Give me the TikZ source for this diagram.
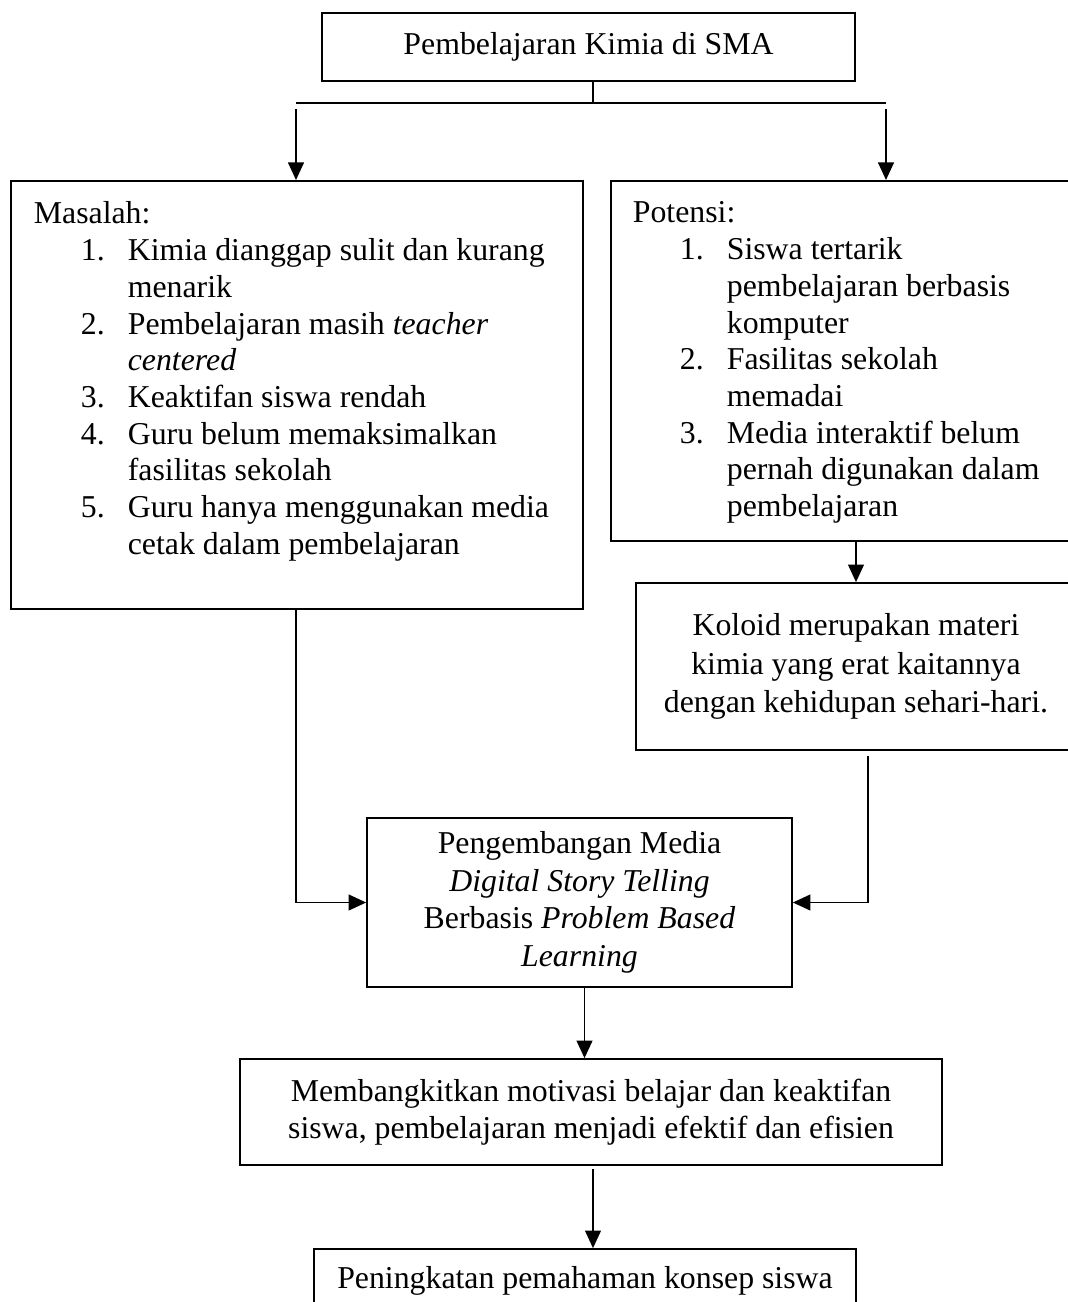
\documentclass[tikz,border=0pt]{standalone}
\usepackage{fontspec}
\setmainfont{Liberation Serif}
\usetikzlibrary{arrows.meta, positioning, calc}

\newcommand{\butir}[2]{\makebox[0.94cm][l]{#1}#2}

\tikzset{
  kotak/.style={draw, line width=1pt, inner sep=0pt, font=\fontsize{18.1}{21}\selectfont, align=center},
  daftar/.style={draw, line width=1pt, inner sep=0pt, font=\fontsize{18.1}{20.9}\selectfont, anchor=north west},
  panah/.style={-{Triangle[length=10pt, width=9pt]}, line width=1pt},
  garis/.style={line width=1pt},
}

\begin{document}
\begin{tikzpicture}[x=0.02cm, y=-0.02cm]
  \useasboundingbox (0,0) rectangle (1068,1302);

  \node[kotak, minimum width=10.66cm, minimum height=1.36cm] (judul) at (588.5,47) {Pembelajaran Kimia di SMA};

  \node[daftar] (masalah) at (10,180) {\parbox[c][8.56cm][t]{11.44cm}{\raggedright\setlength{\parindent}{0pt}\vspace*{0.42cm}%
    \hspace*{0.46cm}Masalah:\\
    \hspace*{1.40cm}\butir{1.}{Kimia dianggap sulit dan kurang}\\
    \hspace*{2.34cm}menarik\\
    \hspace*{1.40cm}\butir{2.}{Pembelajaran masih \textit{teacher}}\\
    \hspace*{2.34cm}\textit{centered}\\
    \hspace*{1.40cm}\butir{3.}{Keaktifan siswa rendah}\\
    \hspace*{1.40cm}\butir{4.}{Guru belum memaksimalkan}\\
    \hspace*{2.34cm}fasilitas sekolah\\
    \hspace*{1.40cm}\butir{5.}{Guru hanya menggunakan media}\\
    \hspace*{2.34cm}cetak dalam pembelajaran}};

  \node[daftar] (potensi) at (610,180) {\parbox[c][7.2cm][t]{9.32cm}{\raggedright\setlength{\parindent}{0pt}\vspace*{0.42cm}%
    \hspace*{0.44cm}Potensi:\\
    \hspace*{1.38cm}\butir{1.}{Siswa tertarik}\\
    \hspace*{2.32cm}pembelajaran berbasis\\
    \hspace*{2.32cm}komputer\\
    \hspace*{1.38cm}\butir{2.}{Fasilitas sekolah}\\
    \hspace*{2.32cm}memadai\\
    \hspace*{1.38cm}\butir{3.}{Media interaktif belum}\\
    \hspace*{2.32cm}pernah digunakan dalam\\
    \hspace*{2.32cm}pembelajaran}};

  \node[kotak, minimum width=8.8cm, minimum height=3.34cm, font=\fontsize{18.1}{22}\selectfont] (koloid) at (856,666.5) {Koloid merupakan materi\\ kimia yang erat kaitannya\\ dengan kehidupan sehari-hari.};

  \node[kotak, minimum width=8.5cm, minimum height=3.38cm, font=\fontsize{18.1}{21.4}\selectfont] (media) at (579.5,902.5) {Pengembangan Media\\ \textit{Digital Story Telling}\\ Berbasis \textit{Problem Based}\\ \textit{Learning}};

  \node[kotak, minimum width=14.04cm, minimum height=2.12cm] (motivasi) at (591,1112) {Membangkitkan motivasi belajar dan keaktifan\\ siswa, pembelajaran menjadi efektif dan efisien};

  \node[kotak, minimum width=10.84cm, minimum height=1.28cm] (paham) at (585,1281) {Peningkatan pemahaman konsep siswa};

  % percabangan dari judul
  \coordinate (cabang) at (593,103);
  \coordinate (ujungKiri) at (296,103);
  \coordinate (ujungKanan) at (886,103);
  \coordinate (mulaiKiri) at (296,109);
  \coordinate (mulaiKanan) at (886,109);
  \draw[garis] (cabang |- judul.south) -- (cabang);
  \draw[garis] (ujungKiri) -- (ujungKanan);
  \draw[panah] (mulaiKiri) -- (mulaiKiri |- masalah.north);
  \draw[panah] (mulaiKanan) -- (mulaiKanan |- potensi.north);

  \draw[panah] (koloid.north |- potensi.south) -- (koloid.north);
  \draw[panah] (mulaiKiri |- masalah.south) |- (media.west);
  \draw[panah] ([xshift=0.24cm, yshift=-0.1cm]koloid.south) |- (media.east);
  \draw[panah] ([xshift=0.1cm]media.south) -- ([xshift=0.1cm]media.south |- motivasi.north);
  \draw[panah] ([xshift=0.04cm, yshift=-0.06cm]motivasi.south) -- ([xshift=0.04cm]motivasi.south |- paham.north);
\end{tikzpicture}
\end{document}
